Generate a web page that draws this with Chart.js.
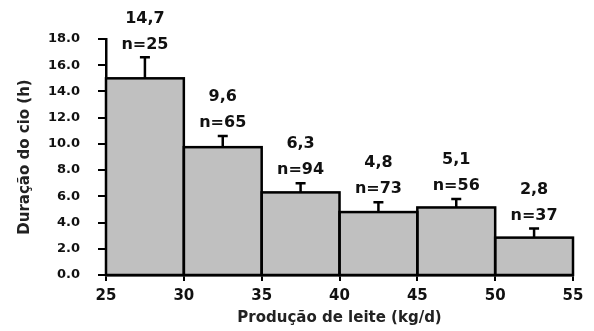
<!DOCTYPE html>
<html>
<head>
<meta charset="utf-8">
<script src="https://cdn.jsdelivr.net/npm/chart.js@4.4.1/dist/chart.umd.min.js"></script>
<style>
  html, body { margin: 0; padding: 0; background: #fff; }
  #wrap { width: 594px; height: 331px; position: relative; }
</style>
</head>
<body>
<div id="wrap"><canvas id="c" width="594" height="331"></canvas></div>
<script>
// Class midpoints of milk production (kg/d)
const binCenters = [27.5, 32.5, 37.5, 42.5, 47.5, 52.5];
const binWidth = 5;
// Bar heights as drawn (h)
const barHeights = [15.0, 9.75, 6.3, 4.8, 5.15, 2.85];
// Top of error bars (h)
const errorTops = [16.6, 10.6, 7.0, 5.55, 5.8, 3.55];
// Printed labels
const meanLabels = ["14,7", "9,6", "6,3", "4,8", "5,1", "2,8"];
const nLabels = ["n=25", "n=65", "n=94", "n=73", "n=56", "n=37"];
// Axis ticks
const xTicks = [25, 30, 35, 40, 45, 50, 55];
const yTicks = [0, 2, 4, 6, 8, 10, 12, 14, 16, 18];

Chart.defaults.font.family = "'DejaVu Sans', sans-serif";
Chart.defaults.font.weight = 'bold';
Chart.defaults.color = '#111';

const annotate = {
  id: 'annotate',
  afterDatasetsDraw(chart) {
    const ctx = chart.ctx;
    const xs = chart.scales.x, ys = chart.scales.y;
    ctx.save();
    ctx.strokeStyle = '#000';
    ctx.lineWidth = 2.5;
    ctx.lineJoin = 'miter';
    // bar outlines
    binCenters.forEach((c, i) => {
      const x0 = xs.getPixelForValue(c - binWidth / 2);
      const x1 = xs.getPixelForValue(c + binWidth / 2);
      const yTop = ys.getPixelForValue(barHeights[i]);
      const yBot = ys.getPixelForValue(0);
      ctx.strokeRect(x0, yTop, x1 - x0, yBot - yTop);
    });
    binCenters.forEach((c, i) => {
      const px = xs.getPixelForValue(c);
      const pTop = ys.getPixelForValue(barHeights[i]);
      const pErr = ys.getPixelForValue(errorTops[i]);
      ctx.beginPath();
      ctx.moveTo(px, pTop);
      ctx.lineTo(px, pErr);
      ctx.moveTo(px - 5, pErr);
      ctx.lineTo(px + 5, pErr);
      ctx.stroke();
      ctx.fillStyle = '#111';
      ctx.font = "bold 16px 'DejaVu Sans', sans-serif";
      ctx.textAlign = 'center';
      ctx.textBaseline = 'middle';
      ctx.fillText(nLabels[i], px, pErr - 13);
      ctx.fillText(meanLabels[i], px, pErr - 39);
    });
    ctx.restore();
  }
};

new Chart(document.getElementById('c'), {
  type: 'bar',
  data: {
    datasets: [{
      data: binCenters.map((c, i) => ({ x: c, y: barHeights[i] })),
      backgroundColor: '#c0c0c0',
      borderWidth: 0,
      inflateAmount: 1,
      barPercentage: 1,
      categoryPercentage: 1
    }]
  },
  options: {
    responsive: false,
    animation: false,
    layout: { padding: { top: 39, right: 21, left: 0, bottom: 0 } },
    plugins: { legend: { display: false }, tooltip: { enabled: false } },
    scales: {
      x: {
        type: 'linear',
        min: xTicks[0],
        max: xTicks[xTicks.length - 1],
        offset: false,
        afterBuildTicks: s => { s.ticks = xTicks.map(v => ({ value: v })); },
        afterFit: s => { s.height = 56; },
        grid: { offset: false, drawOnChartArea: false, color: '#000', lineWidth: 2, tickLength: 6 },
        border: { display: true, color: '#000', width: 2.5 },
        ticks: { font: { size: 15, weight: 'bold' }, color: '#111', padding: 6, maxRotation: 0 },
        title: {
          display: true,
          text: 'Produção de leite (kg/d)',
          font: { size: 15, weight: 'bold' },
          color: '#222',
          padding: { top: 0, bottom: 4 }
        }
      },
      y: {
        min: 0,
        max: 18,
        afterBuildTicks: s => { s.ticks = yTicks.map(v => ({ value: v })); },
        afterFit: s => { s.width = 106; },
        grid: { drawOnChartArea: false, color: '#000', lineWidth: 2, tickLength: 8 },
        border: { display: true, color: '#000', width: 2.5 },
        ticks: { font: { size: 13, weight: 'bold' }, color: '#111', padding: 18, callback: v => v.toFixed(1) },
        title: {
          display: true,
          text: 'Duração do cio (h)',
          font: { size: 15, weight: 'bold' },
          color: '#222',
          padding: { top: 16, bottom: 0 }
        }
      }
    }
  },
  plugins: [annotate]
});
</script>
</body>
</html>
